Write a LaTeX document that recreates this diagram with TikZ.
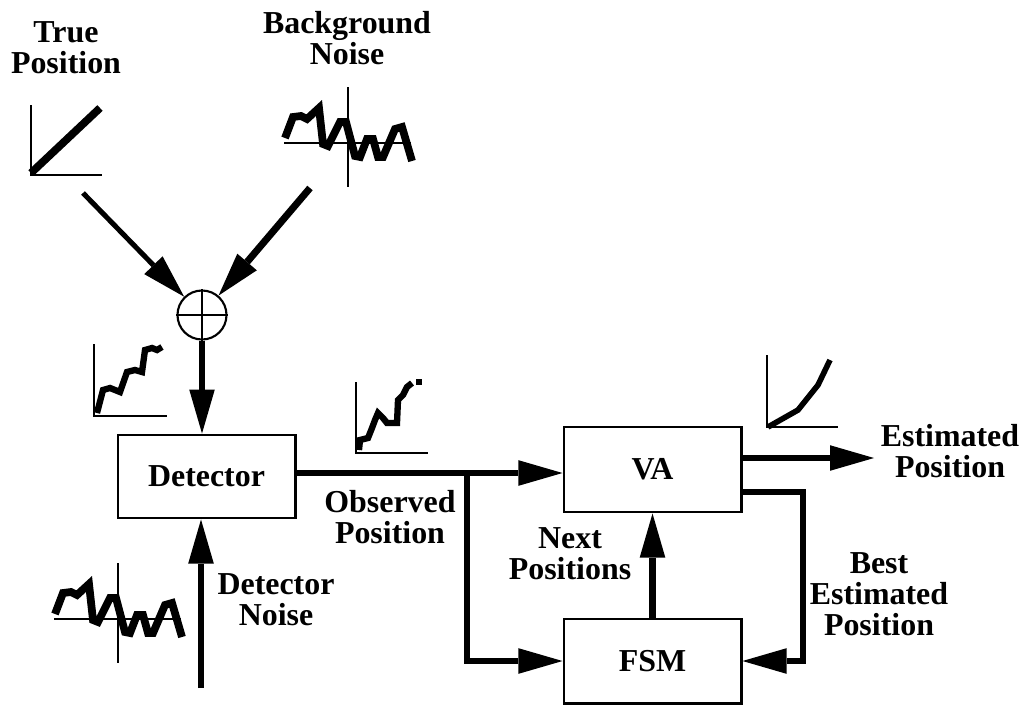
\documentclass[tikz,border=0pt]{standalone}
\usepackage{fontspec}
\setmainfont{Liberation Serif}
\usetikzlibrary{arrows.meta,positioning,calc}

% noise trace with its axes, origin at the axis crossing
\newcommand{\noiseplot}[1]{%
  \begin{scope}[shift={#1}]
    \draw[ax] (-64,0) -- (63,0);
    \draw[ax] (0,-56) -- (0,44);
    \draw[trc] (-63,-5) -- (-55,-26) -- (-47,-27) -- (-41,-24) -- (-29,-35) -- (-25,1)
      -- (-20,3) -- (-8,-21) -- (-2,-21) -- (7,13) -- (12,14) -- (19,-4) -- (25,-4)
      -- (30,14) -- (35,14) -- (47,-14) -- (54,-16) -- (64,18);
  \end{scope}}

\begin{document}
\begin{tikzpicture}[x=0.025cm, y=-0.025cm,
  blk/.style={rectangle, draw, line width=2.1pt, minimum width=4.425cm, minimum height=2.1cm,
              inner sep=0pt, font=\fontsize{22.7}{22}\selectfont\bfseries},
  lbl/.style={align=center, inner sep=0pt, font=\fontsize{22.7}{22}\selectfont\bfseries},
  sig/.style={line width=4.3pt, -{Triangle[length=1.1cm, width=0.64cm, line width=0pt]}},
  ax/.style={line width=1.4pt},
  trc/.style={line width=5.5pt}
]
  \useasboundingbox (0,0) rectangle (1024,704);

  % blocks
  \node[circle, draw, line width=1.5pt, minimum size=1.225cm, inner sep=0pt] (sum) at (202,315) {};
  \draw[line width=1.5pt] (sum.north) -- (sum.south) (sum.west) -- (sum.east);
  \node[blk, minimum height=2.075cm] (det) at (206.5,476.5) {Detector};
  \node[blk, minimum height=2.125cm] (va) at (652.5,469.5) {VA};
  \node[blk] (fsm) at (652.5,661) {FSM};

  % labels
  \node[lbl] (tplbl) at (66,48) {True\\Position};
  \node[lbl] (bglbl) at (347,38) {Background\\Noise};
  \node[lbl] (oblbl) at (390,517) {Observed\\Position};
  \node[lbl] (dnlbl) at (276,600) {Detector\\Noise};
  \node[lbl] (nxlbl) at (570,554) {Next\\Positions};
  \node[lbl] (bslbl) at (879,594) {Best\\Estimated\\Position};
  \node[lbl] (eslbl) at (950,451) {Estimated\\Position};

  % little plots
  \begin{scope}[shift={(31,175)}]
    \draw[ax] (0,-70) -- (0,0) -- (71,0);
    \draw[line width=5.5pt] (0,-2) -- (69,-67);
  \end{scope}
  \noiseplot{(348,143)}
  \noiseplot{(118,619)}
  \begin{scope}[shift={(94,416)}]
    \draw[ax] (0,-72) -- (0,0) -- (73,0);
    \draw[line width=4.5pt] (3,-3) -- (9,-26) -- (16,-28) -- (26,-24) -- (33,-44) -- (41,-46)
      -- (48,-44) -- (51,-66) -- (58,-68) -- (63,-66) -- (68,-69);
  \end{scope}
  \begin{scope}[shift={(356,453)}]
    \draw[ax] (0,-71) -- (0,0) -- (72,0);
    \draw[line width=4.5pt] (3,-3) -- (4,-13) -- (12,-15) -- (16,-25) -- (19,-33) -- (22,-40)
      -- (27,-35) -- (31,-30) -- (41,-30) -- (42,-53) -- (47,-58) -- (51,-66) -- (56,-70);
    \fill (60,-74) rectangle (66,-68);
  \end{scope}
  \begin{scope}[shift={(767,427)}]
    \draw[ax] (0,-72) -- (0,0) -- (71,0);
    \draw[line width=4pt] (1,0) -- (31,-17) -- (51,-42) -- (63,-67);
  \end{scope}

  % signal flow
  \coordinate (tpin) at (83,193);
  \coordinate (bgin) at (310,188);
  \coordinate (dnin) at (201,688);
  \coordinate (jn) at (467,473);
  \coordinate (est) at (874,458);
  \coordinate (bcorner) at (803,492);

  \draw[sig, line width=3.6pt] (tpin) -- (sum);
  \draw[sig, line width=5pt] (bgin) -- (sum);
  \draw[sig] (sum.south) -- (sum.south |- det.north);
  \draw[sig] (dnin) -- (dnin |- det.south);
  \draw[line width=4.3pt] (det.east |- jn) -- (jn);
  \draw[sig] (jn) -- (jn -| va.west);
  \draw[sig] (jn) |- (fsm.west);
  \draw[sig] (fsm.north) -- (va.south);
  \draw[sig] (va.east |- est) -- (est);
  \draw[sig] (va.east |- bcorner) -- (bcorner) |- (fsm.east);
\end{tikzpicture}
\end{document}
